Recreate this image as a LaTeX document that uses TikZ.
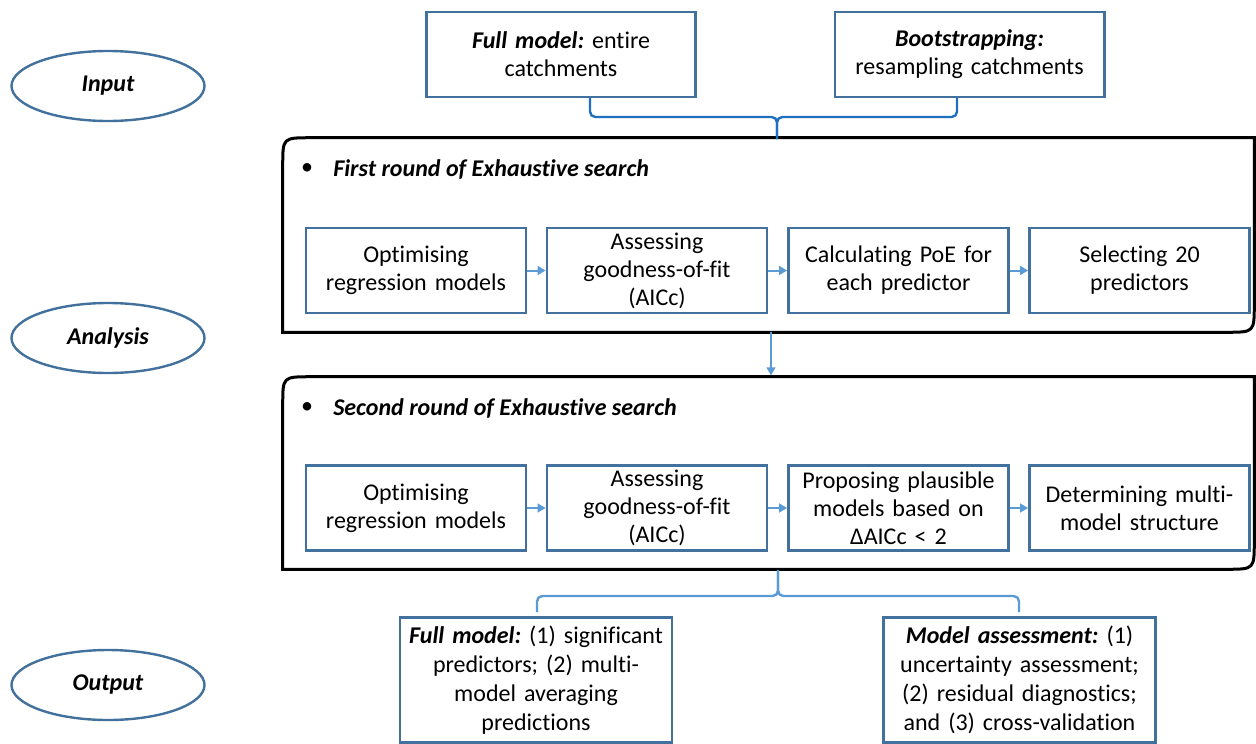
\documentclass[tikz,border=0pt]{standalone}
\usepackage{fontspec}
\setmainfont{Carlito}[Ligatures=NoCommon,Contextuals=NoAlternate]
\usetikzlibrary{shapes.geometric,arrows.meta}
\definecolor{boxblue}{RGB}{65,113,156}
\definecolor{arrblue}{RGB}{91,155,213}
\definecolor{brblue}{RGB}{30,112,190}
\begin{document}
\frenchspacing
\begin{tikzpicture}[x=0.75pt,y=-0.75pt,
  every node/.style={font=\fontsize{18}{21}\selectfont},
  ibox/.style={draw=boxblue, line width=2pt, rectangle, minimum width=165pt, minimum height=63.75pt, inner sep=0pt, align=center, text width=162pt},
  topbox/.style={draw=boxblue, line width=2pt, rectangle, minimum width=202pt, minimum height=63.75pt, inner sep=0pt, align=center, text width=198pt},
  outbox/.style={draw=boxblue, line width=2pt, rectangle, minimum width=204pt, minimum height=93.75pt, inner sep=0pt, align=center, text width=202pt, font=\fontsize{18}{21.75}\selectfont},
  ell/.style={ellipse, draw=boxblue, line width=1.8pt, minimum width=144.75pt, minimum height=52.5pt, inner sep=0pt, font=\fontsize{18}{21}\selectfont\bfseries\itshape},
  bigbox/.style={rectangle, minimum width=728.25pt, inner sep=0pt},
  bigline/.style={draw=black, line width=2.25pt},
  arr/.style={draw=arrblue, line width=1.5pt, -{Triangle[length=6pt,width=6.5pt]}},
  bracetop/.style={draw=brblue, line width=1.8pt, rounded corners=4pt},
  bracebot/.style={draw=arrblue, line width=1.8pt, rounded corners=4pt},
  title/.style={anchor=west, inner sep=0pt, font=\fontsize{18}{21}\selectfont\bfseries\itshape}
]
\useasboundingbox (0,0) rectangle (1256,743);

% ellipses
\node[ell] (e1) at (108,86) {Input};
\node[ell] (e2) at (108,338) {Analysis};
\node[ell] (e3) at (108,685) {Output};

% top input boxes
\node[topbox] (in1) at (561,54.5) {\textbf{\textit{Full model:}} entire\\catchments};
\node[topbox] (in2) at (969.5,54.5) {\textbf{\textit{Bootstrapping:}}\\resampling catchments};

% big boxes
\node[bigbox, minimum height=145.5pt] (big1) at (768.5,235) {};
\node[bigbox, minimum height=144pt] (big2) at (768.5,473) {};
\foreach \b in {big1,big2}{
  \draw[bigline] (\b.south west) -- ([yshift=-21pt]\b.north west)
     .. controls (\b.north west) .. ([xshift=21pt]\b.north west)
     -- (\b.north east) -- ([yshift=21pt]\b.south east)
     .. controls (\b.south east) .. ([xshift=-21pt]\b.south east) -- cycle;
}

% titles
\node[anchor=center, inner sep=0pt] (bul1) at (307,169) {•};
\node[title] (t1) at (333,169) {First round of Exhaustive search};
\node[anchor=center, inner sep=0pt] (bul2) at (307,408) {•};
\node[title] (t2) at (333,408) {Second round of Exhaustive search};

% row 1
\node[ibox] (r1a) at (416,270.5) {Optimising\\regression models};
\node[ibox] (r1b) at (657,270.5) {Assessing\\goodness-of-fit\\(AICc)};
\node[ibox] (r1c) at (898.5,270.5) {Calculating PoE for\\each predictor};
\node[ibox] (r1d) at (1139.5,270.5) {Selecting 20\\predictors};
\draw[arr] (r1a) -- (r1b);
\draw[arr] (r1b) -- (r1c);
\draw[arr] (r1c) -- (r1d);

% row 2
\node[ibox] (r2a) at (416,508) {Optimising\\regression models};
\node[ibox] (r2b) at (657,508) {Assessing\\goodness-of-fit\\(AICc)};
\node[ibox] (r2c) at (898.5,508) {Proposing plausible\\models based on\\ΔAICc < 2};
\node[ibox] (r2d) at (1139.5,508) {Determining multi-\\model structure};
\draw[arr] (r2a) -- (r2b);
\draw[arr] (r2b) -- (r2c);
\draw[arr] (r2c) -- (r2d);

% arrow between big boxes
\draw[arr, shorten >=1pt] ([xshift=2pt]r1b.east |- big1.south) -- ([xshift=2pt]r1b.east |- big2.north);

% output boxes
\node[outbox] (out1) at (536,680) {\textbf{\textit{Full model:}} (1) significant\\predictors; (2) multi-\\model averaging\\predictions};
\node[outbox] (out2) at (1019.5,680) {\textbf{\textit{Model assessment:}} (1)\\uncertainty assessment;\\(2) residual diagnostics;\\and (3) cross-validation};

% top brace
\coordinate (tbL) at (590,98);
\coordinate (tbR) at (957,98);
\coordinate (tbM) at (777,117);
\coordinate (tbT) at (777,139);
\draw[bracetop] (tbT) -- (tbM) -| (tbL);
\draw[bracetop] (tbT) -- (tbM) -| (tbR);

% bottom brace
\coordinate (bbL) at (537,612);
\coordinate (bbR) at (1019,612);
\coordinate (bbM) at (778,596);
\coordinate (bbT) at (778,570);
\draw[bracebot] (bbT) -- (bbM) -| (bbL);
\draw[bracebot] (bbT) -- (bbM) -| (bbR);
\end{tikzpicture}
\end{document}
